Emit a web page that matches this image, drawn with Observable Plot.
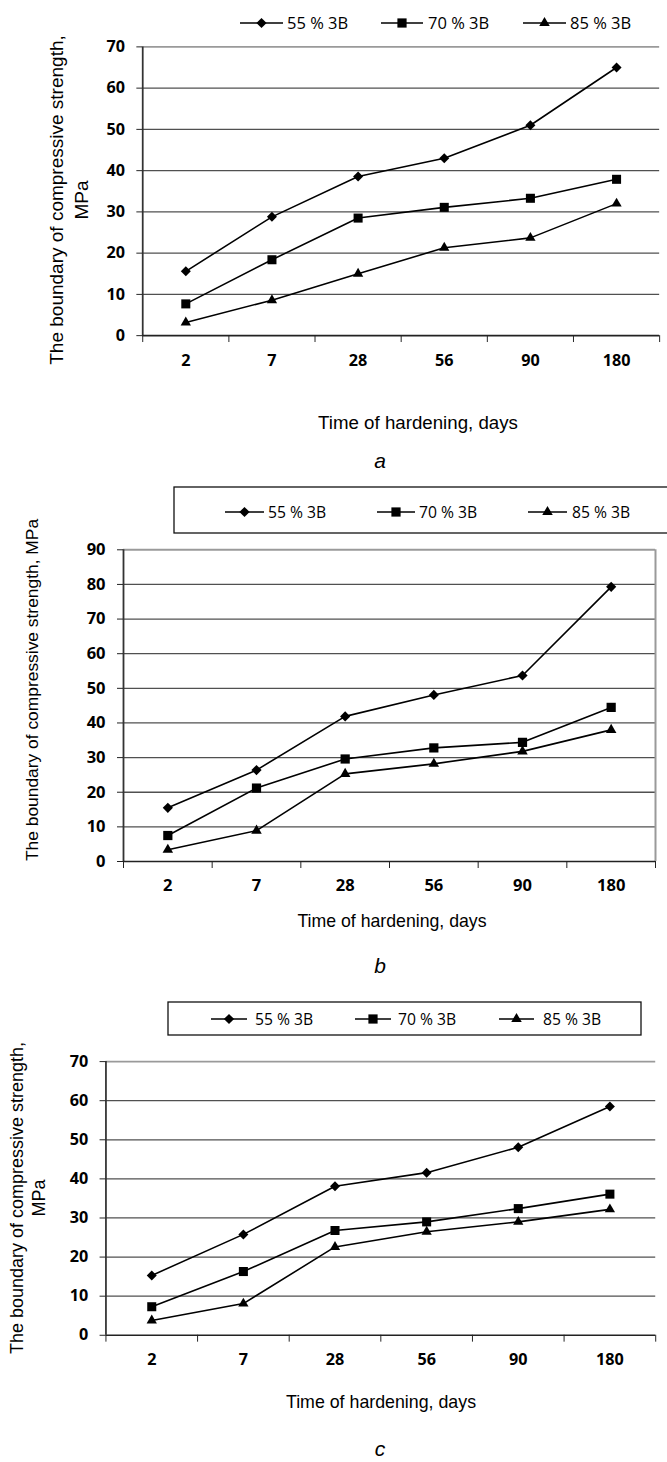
<!DOCTYPE html>
<html><head><meta charset="utf-8">
<script src="https://cdn.jsdelivr.net/npm/d3@7"></script>
<script src="https://cdn.jsdelivr.net/npm/@observablehq/plot@0.6"></script>
<style>
html,body{margin:0;padding:0;background:#fff;overflow:hidden;}
#root{position:relative;width:667px;height:1462px;overflow:hidden;background:#fff;}
</style></head><body><div id="root"></div>
<script>
// ---- data ----
const days = ["2","7","28","56","90","180"];
const names = ["55 % 3B","70 % 3B","85 % 3B"];
const a55 = [15.6, 28.8, 38.6, 43.0, 51.0, 65.0];
const a70 = [7.7, 18.4, 28.5, 31.1, 33.3, 37.9];
const a85 = [3.2, 8.6, 15.0, 21.3, 23.7, 32.0];
const b55 = [15.5, 26.4, 41.9, 48.1, 53.7, 79.3];
const b70 = [7.5, 21.2, 29.6, 32.8, 34.4, 44.5];
const b85 = [3.4, 8.9, 25.3, 28.2, 31.8, 38.0];
const c55 = [15.3, 25.8, 38.1, 41.6, 48.1, 58.5];
const c70 = [7.3, 16.3, 26.8, 29.0, 32.4, 36.1];
const c85 = [3.8, 8.1, 22.6, 26.5, 29.0, 32.2];
const ticksA = [0,10,20,30,40,50,60,70];
const ticksB = [0,10,20,30,40,50,60,70,80,90];
const ticksC = [0,10,20,30,40,50,60,70];
const xTitle = "Time of hardening, days";
const yTitle1 = "The boundary of compressive strength,";
const yTitle2 = "MPa";
const panelLetters = ["a","b","c"];

// ---- style ----
const SYM = ["diamond2","square","triangle"];
const SYMR = [4.6, 5.2, 3.9];
const d3Sym = [d3.symbolDiamond2, d3.symbolSquare, d3.symbolTriangle];
const tickFont = "'Open Sans', 'Noto Sans', sans-serif";
const textFont = "'Liberation Sans', Arial, sans-serif";

const root = document.getElementById("root");

function panel(top, cfg, series, yticks, ymax, xPad, frameRight) {
  const rows = [];
  series.forEach((vals, s) => vals.forEach((v, i) => rows.push({pos: i + 0.5, v, s})));
  const marks = [
    Plot.ruleY(yticks.filter(t => t > 0 && t < ymax), {stroke: "#505050", strokeWidth: 1.3}),
    Plot.ruleY([ymax], {stroke: "#9a9a9a", strokeWidth: 2})
  ];
  if (frameRight) marks.push(Plot.ruleX([days.length], {y1: 0, y2: ymax, stroke: "#9a9a9a", strokeWidth: 2}));
  marks.push(
    Plot.ruleX([0], {y1: 0, y2: ymax, stroke: "#333", strokeWidth: 1.8}),
    Plot.ruleY([0], {stroke: "#222", strokeWidth: 1.6}),
    Plot.axisY(yticks, {label: null, tickSize: 6, tickPadding: 12, color: "#222", fill: "#000", fontSize: 16.5, fontWeight: 700, fontFamily: tickFont, tickFormat: d => String(d)}),
    Plot.axisX(d3.range(days.length + 1), {label: null, tickSize: 7, color: "#222", tickFormat: () => ""}),
    Plot.axisX(days.map((_, i) => i + 0.5), {label: null, tickSize: 0, tickPadding: xPad, fill: "#000", fontSize: 16.5, fontWeight: 700, fontFamily: tickFont, tickFormat: p => days[Math.round(p - 0.5)]}),
    Plot.line(rows, {x: "pos", y: "v", z: "s", stroke: "#000", strokeWidth: 1.6})
  );
  [0,1,2].forEach(k => marks.push(Plot.dot(rows.filter(d => d.s === k), {x: "pos", y: "v", symbol: SYM[k], r: SYMR[k], fill: "#000"})));
  const el = Plot.plot({
    ...cfg,
    x: {domain: [0, days.length], axis: null, label: null},
    y: {domain: [0, ymax], axis: null, label: null},
    style: {background: "transparent", overflow: "visible", fontFamily: tickFont},
    marks
  });
  el.style.position = "absolute";
  el.style.left = "0px";
  el.style.top = top + "px";
  root.appendChild(el);
}

panel(0, {width: 680, height: 400, marginLeft: 145, marginRight: 8, marginTop: 47.3, marginBottom: 58.3}, [a55, a70, a85], ticksA, 70, 19.3, false);
panel(480, {width: 667, height: 440, marginLeft: 123, marginRight: 12, marginTop: 69.3, marginBottom: 59}, [b55, b70, b85], ticksB, 90, 17.6, true);
panel(980, {width: 680, height: 400, marginLeft: 107.5, marginRight: 12, marginTop: 82.7, marginBottom: 38.3}, [c55, c70, c85], ticksC, 70, 18.6, false);

// ---- overlay: legends & titles ----
const ov = d3.select(root).append("svg")
  .attr("width", 667).attr("height", 1462)
  .style("position", "absolute").style("left", "0px").style("top", "0px");

function legend(y, items, fs, box) {
  if (box) ov.append("rect").attr("x", box[0]).attr("y", box[1]).attr("width", box[2] - box[0]).attr("height", box[3] - box[1])
    .attr("fill", "#fff").attr("stroke", "#111").attr("stroke-width", 1.3);
  items.forEach(([x1, x2, tx], k) => {
    ov.append("line").attr("x1", x1).attr("x2", x2).attr("y1", y).attr("y2", y).attr("stroke", "#000").attr("stroke-width", 1.6);
    ov.append("path").attr("d", d3.symbol(d3Sym[k], Math.PI * SYMR[k] * SYMR[k])()).attr("transform", `translate(${(x1 + x2) / 2},${y})`).attr("fill", "#000");
    ov.append("text").attr("x", tx).attr("y", y + 0.357 * fs).attr("font-family", tickFont).attr("font-size", fs).attr("fill", "#000").text(names[k]);
  });
}
legend(23, [[240, 283, 287], [381, 423, 428], [523, 566, 570]], 16.5, null);
legend(512, [[225, 264, 268], [377, 415, 419], [528, 567, 572]], 15.7, [174, 487, 700, 533]);
legend(1019, [[211, 247, 255], [355, 391, 398], [499, 534, 543]], 15.7, [168, 1002, 641, 1035]);

function hText(x, y, txt, fs, italic) {
  ov.append("text").attr("x", x).attr("y", y).attr("text-anchor", "middle").attr("font-family", textFont)
    .attr("font-size", fs).attr("font-style", italic ? "italic" : "normal").attr("fill", "#000").text(txt);
}
function vText(x, y, txt, fs) {
  ov.append("text").attr("transform", `translate(${x},${y}) rotate(-90)`).attr("text-anchor", "middle")
    .attr("font-family", textFont).attr("font-size", fs).attr("fill", "#000").text(txt);
}
// x titles
hText(418, 428.5, xTitle, 18.7);
hText(392, 926.5, xTitle, 17.7);
hText(381, 1407.5, xTitle, 17.8);
// y titles
vText(63, 200, yTitle1, 19);
vText(88, 200, yTitle2, 19);
vText(38, 690, yTitle1 + " " + yTitle2, 17.4);
vText(23, 1198, yTitle1, 18);
vText(45, 1198, yTitle2, 18);
// panel letters
hText(380, 467.5, panelLetters[0], 21, true);
hText(380, 973, panelLetters[1], 21, true);
hText(380, 1456, panelLetters[2], 21, true);
</script></body></html>
